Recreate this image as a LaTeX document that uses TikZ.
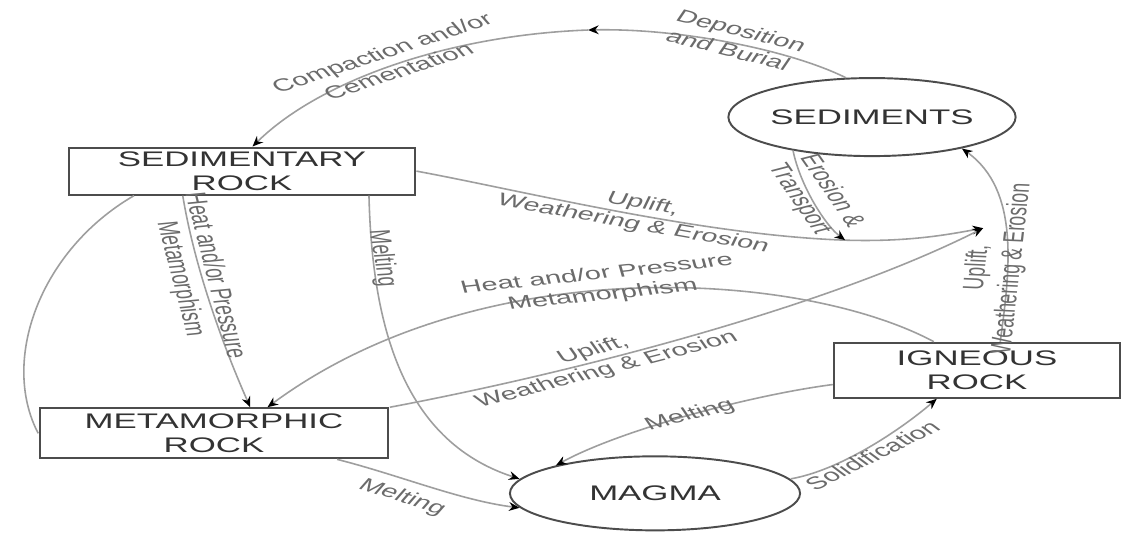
\documentclass[tikz,border=0pt]{standalone}
\usepackage{fontspec}
\setmainfont{Liberation Sans}
\usetikzlibrary{arrows.meta,shapes.geometric,calc}
\begin{document}
\begin{tikzpicture}[x=0.0121212cm, y=-0.02cm, xscale=1.65, transform shape,
  rockbox/.style={draw=black!70, line width=1.2pt, rectangle, inner sep=0pt, align=center, text=black!80, font=\fontsize{12}{13.5}\selectfont},
  blob/.style={draw=black!70, line width=1.1pt, ellipse, inner sep=0pt, text=black!80, font=\fontsize{12}{13.5}\selectfont},
  conn/.style={draw=black!38, line width=0.9pt, -{Stealth[length=6pt,width=5pt,black]}},
  plainconn/.style={draw=black!38, line width=0.9pt},
  lbl/.style={font=\fontsize{10}{12}\selectfont, text=black!58, align=center, inner sep=0pt}]
\fill[white] (0,0) rectangle (1124,533);
\useasboundingbox (0,0) rectangle (1124,533);

% main nodes
\node[rockbox, minimum width=4.182cm, minimum height=0.94cm] (sedrock) at (242,171) {SEDIMENTARY\\ROCK};
\node[rockbox, minimum width=4.218cm, minimum height=1.0cm] (metrock) at (214,433) {METAMORPHIC\\ROCK};
\node[rockbox, minimum width=3.455cm, minimum height=1.1cm] (ignrock) at (977,370) {IGNEOUS\\ROCK};
\node[blob, minimum width=3.091cm, minimum height=1.56cm] (sediments) at (872,117) {SEDIMENTS};
\node[blob, minimum width=3.515cm, minimum height=1.48cm] (magma) at (655,493) {MAGMA};

\coordinate (T) at (588,30);
\coordinate (J2) at (845,240);
\coordinate (J) at (983,228);

% connectors
\draw[conn] (sediments.112) .. controls (790,50) and (680,28) .. (T);
\draw[conn] (T) .. controls (450,35) and (320,80) .. ($(sedrock.north west)!0.53!(sedrock.north east)$);
\draw[conn] (sedrock.east) .. controls (520,190) and (700,235) .. (J2) .. controls (910,242) and (950,234) .. (J);
\draw[conn] (sediments.215) .. controls (800,185) and (825,225) .. (J2);
\draw[conn] (metrock.north east) .. controls (560,375) and (820,310) .. (J);
\draw[conn] ($(ignrock.north west)!0.58!(ignrock.north east)$) .. controls (1010,270) and (1020,190) .. (sediments.-30);
\draw[conn] ($(sedrock.south west)!0.33!(sedrock.south east)$) .. controls (195,270) and (225,350) .. ($(metrock.north west)!0.603!(metrock.north east)$);
\draw[conn] ($(sedrock.south west)!0.864!(sedrock.south east)$) .. controls (372,320) and (400,440) .. (magma.170);
\draw[conn] ($(metrock.south west)!0.85!(metrock.south east)$) .. controls (400,475) and (460,500) .. (magma.190);
\draw[conn] ($(ignrock.west)!0.5!(ignrock.south west)$) .. controls (750,395) and (620,430) .. (magma.155);
\draw[conn] (magma.10) .. controls (840,470) and (900,430) .. ($(ignrock.south west)!0.36!(ignrock.south east)$);
\draw[conn] ($(ignrock.north west)!0.35!(ignrock.north east)$) .. controls (800,270) and (480,250) .. ($(metrock.north west)!0.652!(metrock.north east)$);
\draw[plainconn] (metrock.west) .. controls (0,360) and (40,250) .. ($(sedrock.south west)!0.19!(sedrock.south east)$);

% labels
\node[lbl, rotate=28.2] (lcomp) at (390,62) {Compaction and/or\\Cementation};
\node[lbl, rotate=-22.4] (ldep) at (735,40) {Deposition\\and Burial};
\node[lbl, rotate=-16.2] (lup1) at (638,214) {Uplift,\\Weathering \& Erosion};
\node[lbl, rotate=-67] (ltr) at (815,195) {Erosion \&\\Transport};
\node[lbl, rotate=86] (lup2) at (995,268) {Uplift,\\Weathering \& Erosion};
\node[lbl, rotate=23.1] (lup3) at (600,360) {Uplift,\\Weathering \& Erosion};
\node[lbl, rotate=-81] (lheat1) at (197,277) {Heat and/or Pressure\\Metamorphism};
\node[lbl, rotate=9.8] (lheat2) at (600,285) {Heat and/or Pressure\\Metamorphism};
\node[lbl, rotate=-84] (lmelt1) at (382,258) {Melting};
\node[lbl, rotate=-28] (lmelt2) at (402,497) {Melting};
\node[lbl, rotate=22.3] (lmelt3) at (690,415) {Melting};
\node[lbl, rotate=39] (lsol) at (872,455) {Solidification};
\end{tikzpicture}
\end{document}
